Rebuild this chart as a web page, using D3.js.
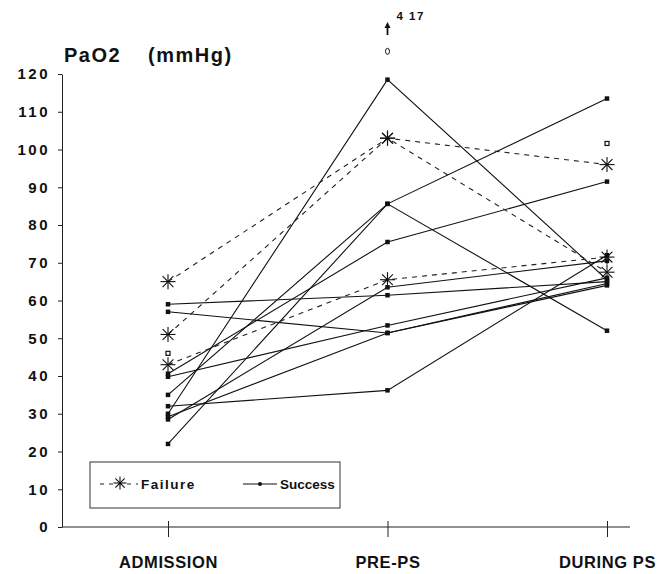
<!DOCTYPE html>
<html>
<head>
<meta charset="utf-8">
<script src="https://cdn.jsdelivr.net/npm/d3@7"></script>
<style>
  html, body { margin: 0; padding: 0; background: #fff; }
  svg { display: block; }
  text { font-family: "Liberation Sans", Arial, Helvetica, sans-serif; fill: #111; }
</style>
</head>
<body>
<svg id="chart" width="670" height="574"></svg>
<script>
// ---- data ----
const categories = ["ADMISSION", "PRE-PS", "DURING PS"];
const yTicks = [0, 10, 20, 30, 40, 50, 60, 70, 80, 90, 100, 110, 120];
const yTitle = "PaO2";
const yUnit = "(mmHg)";
const seriesNames = ["Failure", "Success"];

// Failure patients (dashed, asterisk): admission, pre-PS, during PS
const failure = [
  [65, 103, 96],
  [51, 103, 67.5],
  [43, 65.5, 71.5]
];
// Success patients (solid, square)
const success = [
  [59, 61.4, 65],
  [57, 51.4, 64],
  [40.6, 75.5, 91.5],
  [39.8, 53.4, 66],
  [35, 85.6, 113.5],
  [22, 85.6, 52],
  [32, 36.2, 72],
  [30, 118.5, 65.5],
  [29.2, 51.4, 64.5],
  [28.5, 63.5, 70.5]
];
// isolated points (patient with off-scale pre-PS value)
const isolatedCats = ["ADMISSION", "DURING PS"];
const isolatedVals = [46, 101.6];
const offScaleCat = "PRE-PS";
const offScaleMarkVal = 126;
const offScaleLabel = "4 17";

// ---- chart ----
const svg = d3.select("#chart");
const y = d3.scaleLinear().domain([0, 120]).range([527, 74]);
const x = d3.scalePoint().domain(categories).range([168, 607]);
const xAxisLeft = 62, xAxisRight = 630;

// y axis
const yAxis = svg.append("g")
  .attr("transform", `translate(${xAxisLeft},0)`)
  .call(d3.axisLeft(y).tickValues(yTicks).tickSize(4).tickSizeOuter(0).tickPadding(8));
yAxis.select(".domain").attr("stroke", "#222").attr("stroke-width", 1);
yAxis.selectAll(".tick line").attr("stroke", "#222");
yAxis.selectAll(".tick text")
  .style("font-size", "15px").style("font-weight", "bold")
  .style("letter-spacing", "2.5px").attr("fill", "#111");

// x axis
const xAxis = svg.append("g")
  .attr("transform", `translate(0,${y(0)})`)
  .call(d3.axisBottom(x).tickSize(10).tickSizeOuter(0).tickPadding(19));
xAxis.select(".domain").remove();
xAxis.append("line").attr("x1", xAxisLeft).attr("x2", xAxisRight)
  .attr("y1", 0).attr("y2", 0).attr("stroke", "#222");
xAxis.selectAll(".tick line").attr("y1", -6).attr("y2", 10).attr("stroke", "#222");
xAxis.selectAll(".tick text")
  .style("font-size", "16.5px").style("font-weight", "bold")
  .style("letter-spacing", "0.6px").attr("fill", "#111");

// title
const t = svg.append("text").attr("x", 64).attr("y", 62)
  .style("font-size", "20px").style("font-weight", "bold").style("letter-spacing", "1.5px");
t.append("tspan").text(yTitle);
t.append("tspan").attr("x", 148).text(yUnit);

const line = d3.line().x((d, i) => x(categories[i])).y(d => y(d));

function asterisk(g, cx, cy, r) {
  const a = r * 0.72;
  const segs = [[-r, 0, r, 0], [0, -r, 0, r], [-a, -a, a, a], [-a, a, a, -a]];
  segs.forEach(s => g.append("line")
    .attr("x1", cx + s[0]).attr("y1", cy + s[1])
    .attr("x2", cx + s[2]).attr("y2", cy + s[3])
    .attr("stroke", "#111").attr("stroke-width", 1.1));
}

// success lines
svg.append("g").selectAll("path").data(success).join("path")
  .attr("d", line).attr("fill", "none").attr("stroke", "#111").attr("stroke-width", 1.1);
// failure lines
svg.append("g").selectAll("path").data(failure).join("path")
  .attr("d", line).attr("fill", "none").attr("stroke", "#222")
  .attr("stroke-width", 1.1).attr("stroke-dasharray", "5,5");

// success markers
const sq = 4.5;
success.forEach(s => s.forEach((v, i) => {
  svg.append("rect")
    .attr("x", x(categories[i]) - sq / 2).attr("y", y(v) - sq / 2)
    .attr("width", sq).attr("height", sq).attr("fill", "#111");
}));
// failure markers
const fg = svg.append("g");
failure.forEach(s => s.forEach((v, i) => asterisk(fg, x(categories[i]), y(v), 7.5)));

// isolated markers
isolatedCats.forEach((c, i) => {
  svg.append("rect")
    .attr("x", x(c) - 2).attr("y", y(isolatedVals[i]) - 2)
    .attr("width", 4).attr("height", 4)
    .attr("fill", "#fff").attr("stroke", "#111").attr("stroke-width", 1.2);
});
svg.append("ellipse")
  .attr("cx", x(offScaleCat)).attr("cy", y(offScaleMarkVal))
  .attr("rx", 2).attr("ry", 3).attr("fill", "none").attr("stroke", "#111").attr("stroke-width", 1);
// off-scale arrow + label
const ax = x(offScaleCat);
svg.append("line").attr("x1", ax).attr("x2", ax).attr("y1", 35).attr("y2", 25)
  .attr("stroke", "#111").attr("stroke-width", 1.8);
svg.append("path").attr("d", `M${ax - 3},${28} L${ax},${22} L${ax + 3},${28} Z`).attr("fill", "#111");
svg.append("text").attr("x", ax + 9).attr("y", 20)
  .style("font-size", "11.5px").style("font-weight", "bold").style("letter-spacing", "1.5px")
  .text(offScaleLabel);

// legend
const lg = svg.append("g");
lg.append("rect").attr("x", 90).attr("y", 462).attr("width", 250).attr("height", 46)
  .attr("fill", "#fff").attr("stroke", "#333").attr("stroke-width", 1);
lg.append("line").attr("x1", 100).attr("x2", 138).attr("y1", 484).attr("y2", 484)
  .attr("stroke", "#222").attr("stroke-width", 1.1).attr("stroke-dasharray", "4,5");
asterisk(lg, 120, 483, 6.5);
lg.append("text").attr("x", 141).attr("y", 489)
  .style("font-size", "13.5px").style("font-weight", "bold").style("letter-spacing", "1.5px")
  .text(seriesNames[0]);
lg.append("line").attr("x1", 243).attr("x2", 277).attr("y1", 484).attr("y2", 484)
  .attr("stroke", "#111").attr("stroke-width", 1.1);
lg.append("circle").attr("cx", 260).attr("cy", 484).attr("r", 2).attr("fill", "#111");
lg.append("text").attr("x", 280).attr("y", 489)
  .style("font-size", "13.5px").style("font-weight", "bold").style("letter-spacing", "0px")
  .text(seriesNames[1]);
</script>
</body>
</html>
